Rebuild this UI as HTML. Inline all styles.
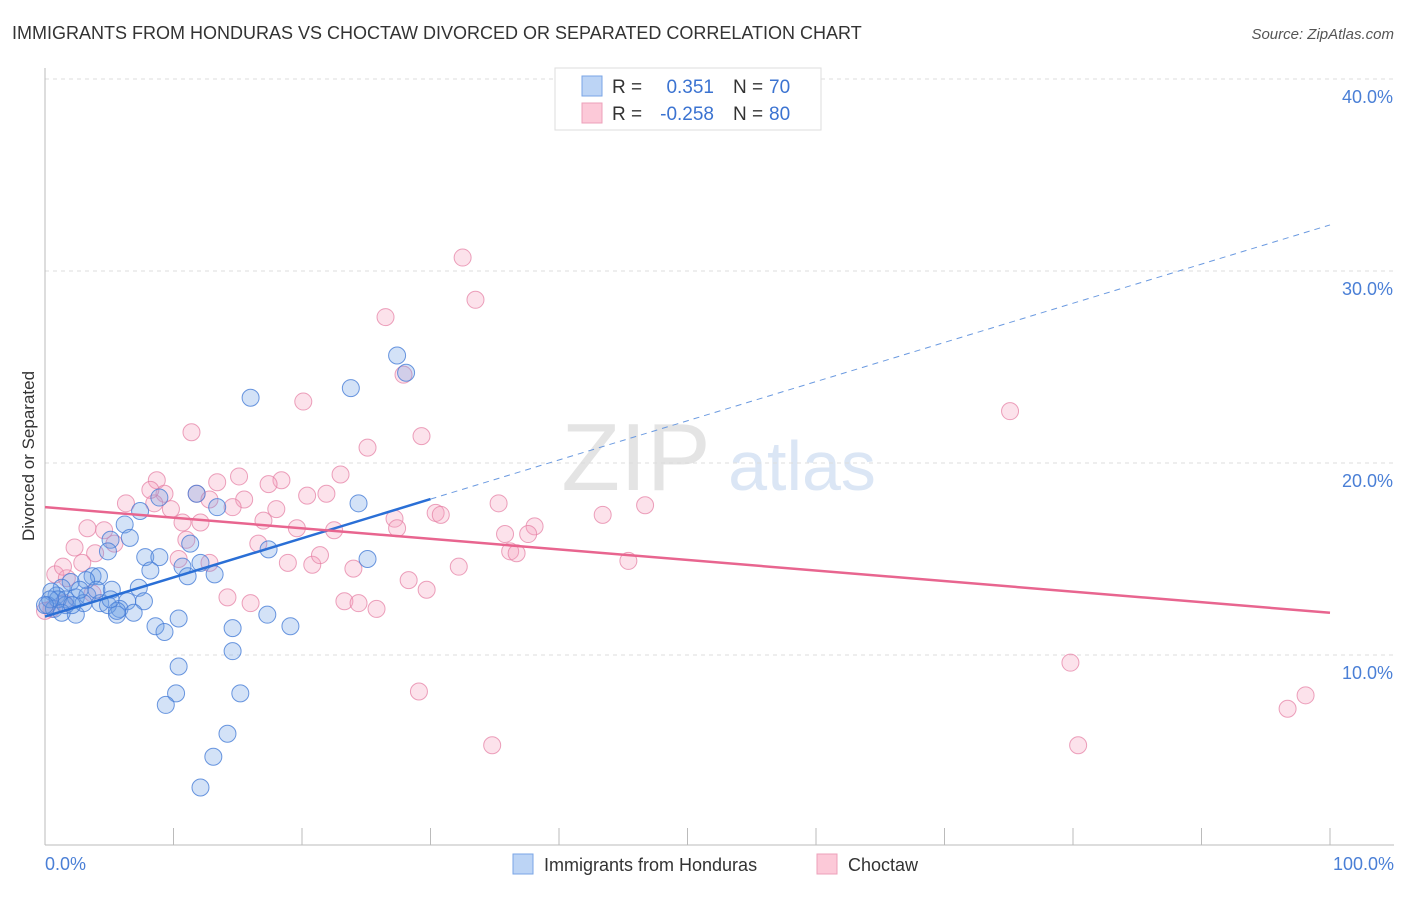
<!DOCTYPE html>
<html><head><meta charset="utf-8"><style>
body{margin:0;background:#fff;font-family:"Liberation Sans",sans-serif;}
svg text{font-family:"Liberation Sans",sans-serif;}
</style></head><body>
<svg id="chart" width="1406" height="892" xmlns="http://www.w3.org/2000/svg">
<text x="12" y="39" font-size="18" fill="#333">IMMIGRANTS FROM HONDURAS VS CHOCTAW DIVORCED OR SEPARATED CORRELATION CHART</text>
<text x="1394" y="39" font-size="15" fill="#555" text-anchor="end" font-style="italic">Source: ZipAtlas.com</text>
<g>
<text x="636" y="490" font-size="96" fill="#e4e4e4" text-anchor="middle" font-family="Liberation Serif">ZIP</text>
<text x="802" y="490" font-size="70" fill="#dbe6f5" text-anchor="middle">atlas</text>
</g>
<g id="grid"></g>
<g id="axes"></g>
<g id="pts"></g>
<g id="trend"></g>
<text transform="translate(34,456) rotate(-90)" font-size="17" fill="#333" text-anchor="middle">Divorced or Separated</text>
<text x="45" y="870" font-size="18" fill="#4a7fd6">0.0%</text>
<text x="1394" y="870" font-size="18" fill="#4a7fd6" text-anchor="end">100.0%</text>
<g>
<rect x="555" y="68" width="266" height="62" fill="#fff" stroke="#ddd"/>
<rect x="582" y="76" width="20" height="20" fill="#bcd4f5" stroke="#7aa5e6"/>
<rect x="582" y="103" width="20" height="20" fill="#fcc9d8" stroke="#eda0ba"/>
<text x="612" y="93" font-size="19" fill="#333">R =</text>
<text x="714" y="93" font-size="19" fill="#3b73d1" text-anchor="end">0.351</text>
<text x="733" y="93" font-size="19" fill="#333">N =</text>
<text x="769" y="93" font-size="19" fill="#3b73d1">70</text>
<text x="612" y="120" font-size="19" fill="#333">R =</text>
<text x="714" y="120" font-size="19" fill="#3b73d1" text-anchor="end">-0.258</text>
<text x="733" y="120" font-size="19" fill="#333">N =</text>
<text x="769" y="120" font-size="19" fill="#3b73d1">80</text>
</g>
<g>
<rect x="513" y="854" width="20" height="20" fill="#bcd4f5" stroke="#7aa5e6"/>
<text x="544" y="871" font-size="18" fill="#333">Immigrants from Honduras</text>
<rect x="817" y="854" width="20" height="20" fill="#fcc9d8" stroke="#eda0ba"/>
<text x="848" y="871" font-size="18" fill="#333">Choctaw</text>
</g>
</svg>
<script>
const yTicks=[10,20,30,40];
const yTickLabels=["10.0%","20.0%","30.0%","40.0%"];
const blueX=[27.4,28.1,23.8,16.0,11.8,24.4,13.4,7.4,8.9,6.2,6.6,5.1,4.9,17.4,11.3,7.8,8.9,12.1,25.1,8.2,10.7,11.1,13.2,3.7,4.2,3.2,2.0,1.3,7.3,5.2,0.9,0.5,1.6,2.4,3.3,4.3,6.4,7.7,5.8,4.9,6.9,5.6,2.4,0.2,0.7,1.6,8.6,9.3,14.6,17.3,19.1,10.4,10.4,14.6,15.2,10.2,9.4,14.2,13.1,12.1,5.6,5.1,1.0,0.4,0.0,1.3,3.0,4.0,2.7,2.1];
const blueY=[25.6,24.7,23.9,23.4,18.4,17.9,17.7,17.5,18.2,16.8,16.1,16.0,15.4,15.5,15.8,15.1,15.1,14.8,15.0,14.4,14.6,14.1,14.2,14.1,14.1,13.9,13.8,13.5,13.5,13.4,13.1,13.3,12.9,13.0,13.1,12.7,12.8,12.8,12.4,12.6,12.2,12.1,12.1,12.6,12.4,12.6,11.5,11.2,11.4,12.1,11.5,11.9,9.4,10.2,8.0,8.0,7.4,5.9,4.7,3.1,12.3,12.9,12.9,12.9,12.6,12.2,12.7,13.4,13.4,12.6];
const pinkX=[32.5,33.5,26.5,20.1,11.4,29.3,25.1,27.9,75.1,8.7,13.4,15.1,18.4,23.0,17.4,11.8,9.3,20.4,21.9,15.5,12.8,35.3,46.7,6.3,8.5,9.8,14.6,18.0,30.4,30.8,27.2,43.4,38.1,10.7,12.1,17.0,4.6,3.3,27.4,19.6,22.5,35.8,37.6,16.6,11.0,5.4,2.3,3.9,10.4,12.8,18.9,20.8,21.4,24.0,32.2,45.4,36.2,36.7,2.9,0.8,1.7,1.4,28.3,29.7,3.7,14.2,16.0,23.3,24.4,25.8,1.5,0.5,0.0,29.1,79.8,34.8,80.4,96.7,98.1,8.2];
const pinkY=[30.7,28.5,27.6,23.2,21.6,21.4,20.8,24.6,22.7,19.1,19.0,19.3,19.1,19.4,18.9,18.4,18.4,18.3,18.4,18.1,18.1,17.9,17.8,17.9,17.9,17.6,17.7,17.6,17.4,17.3,17.1,17.3,16.7,16.9,16.9,17.0,16.5,16.6,16.6,16.6,16.5,16.3,16.3,15.8,16.0,15.8,15.6,15.3,15.0,14.8,14.8,14.7,15.2,14.5,14.6,14.9,15.4,15.3,14.8,14.2,14.0,14.6,13.9,13.4,13.2,13.0,12.7,12.8,12.7,12.4,12.7,12.4,12.3,8.1,9.6,5.3,5.3,7.2,7.9,18.6];
const blueTrend=[12.0,32.4];
const pinkTrend=[17.7,12.2];
const NS="http://www.w3.org/2000/svg";
const X0=45,X1=1330,Y0=847;
function sx(v){return X0+(X1-X0)*v/100;}
function sy(v){return Y0-19.2*v;}
function mk(t,a,p){const e=document.createElementNS(NS,t);for(const k in a)e.setAttribute(k,a[k]);document.getElementById(p).appendChild(e);return e;}
yTicks.forEach((t,i)=>{
  const l=mk('line',{x1:X0,x2:1394,y1:sy(t),y2:sy(t),stroke:'#ddd','stroke-dasharray':'4,4'},'grid');
  
  
  const tx=mk('text',{x:1393,y:sy(t)+24,'font-size':18,fill:'#4a7fd6','text-anchor':'end'},'grid');
  tx.textContent=yTickLabels[i];
  
  
});
const ax=mk('line',{x1:X0,x2:X0,y1:68,y2:845,stroke:'#bbb'},'axes');


const bx=mk('line',{x1:X0,x2:1394,y1:845,y2:845,stroke:'#bbb'},'axes');


for(let i=0;i<=10;i++){
  const t=mk('line',{x1:sx(i*10),x2:sx(i*10),y1:828,y2:845,stroke:'#bbb'},'axes');
  
  
}
function pts(xs,ys,fill,stroke,name){
  xs.forEach((x,i)=>{
    const c=mk('circle',{cx:sx(x),cy:sy(ys[i]),r:8.5,fill:fill,stroke:stroke,'stroke-width':1},'pts');
    
    
  });
}
pts(pinkX,pinkY,'rgba(245,160,190,0.3)','rgba(230,130,165,0.75)','choctaw-point');
pts(blueX,blueY,'rgba(110,160,230,0.3)','rgba(70,125,215,0.8)','honduras-point');
function yb(x){return blueTrend[0]+(blueTrend[1]-blueTrend[0])*x/100;}
const b1=mk('line',{x1:sx(0),y1:sy(yb(0)),x2:sx(30),y2:sy(yb(30)),stroke:'#2a6fd6','stroke-width':2.5},'trend');


const b2=mk('line',{x1:sx(30),y1:sy(yb(30)),x2:sx(100),y2:sy(yb(100)),stroke:'#6b9ae0','stroke-width':1,'stroke-dasharray':'6,5'},'trend');


const p1=mk('line',{x1:sx(0),y1:sy(pinkTrend[0]),x2:sx(100),y2:sy(pinkTrend[1]),stroke:'#e8658f','stroke-width':2.5},'trend');


</script>
</body></html>
